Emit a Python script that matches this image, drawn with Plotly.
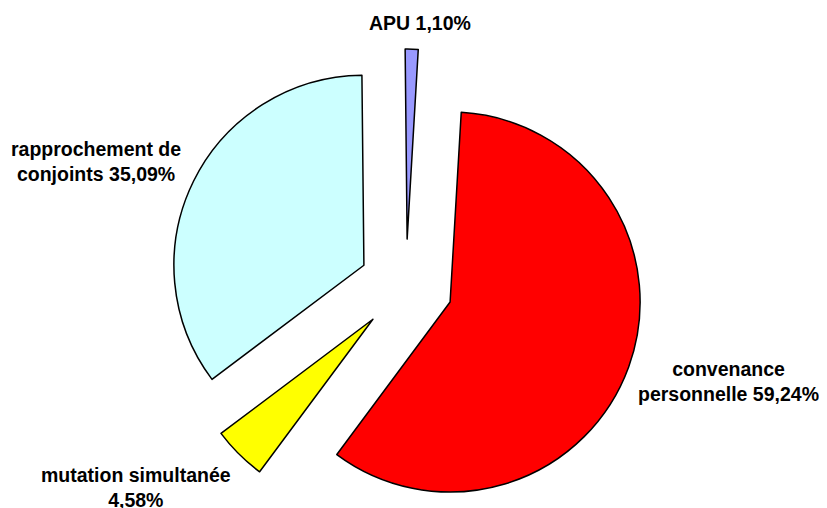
import math
import plotly.graph_objects as go

# ---- data ----
labels = ["APU", "convenance personnelle", "mutation simultanée", "rapprochement de conjoints"]
values = [1.10, 59.24, 4.58, 35.09]
label_texts = ["APU 1,10%", "convenance<br>personnelle 59,24%", "mutation simultanée<br>4,58%",
               "rapprochement de<br>conjoints 35,09%"]
colors = ["#9999FF", "#FF0000", "#FFFF00", "#CCFFFF"]

# ---- layout constants (pixels) ----
W, H = 827, 508
OFF = 8.0                 # page body margin offset compensation
CX, CY = 406.0 - OFF, 286.0 - OFF   # pie centre
R = 190.0                 # radius
PULL = 0.247              # explode fraction of radius
ROT = -0.6                # start angle (deg, clockwise from 12 o'clock)

label_pos = [(419.5, 23.5), (728.5, 381.5), (136.0, 487.5), (96.0, 161.0)]

fig = go.Figure()
total = sum(values)
start = ROT
for k, v in enumerate(values):
    span = 360.0 * v / total
    mid = math.radians(start + span / 2)
    start += span
    cx = CX + PULL * R * math.sin(mid)
    cy = CY - PULL * R * math.cos(mid)
    dx = [max(0.0, (cx - R) / W), min(1.0, (cx + R) / W)]
    dy = [max(0.0, 1 - (cy + R) / H), min(1.0, 1 - (cy - R) / H)]
    cols = ["rgba(0,0,0,0)"] * len(values)
    cols[k] = colors[k]
    widths = [0] * len(values)
    widths[k] = 1.5
    fig.add_trace(go.Pie(
        labels=labels, values=values, sort=False, direction="clockwise",
        rotation=ROT, textinfo="none", showlegend=False,
        marker=dict(colors=cols, line=dict(color="black", width=widths)),
        domain=dict(x=dx, y=dy),
    ))

for txt, (px, py) in zip(label_texts, label_pos):
    fig.add_annotation(
        x=(px - OFF) / W, y=1 - (py - OFF) / H, xref="paper", yref="paper",
        text=f"<b>{txt}</b>", showarrow=False, xanchor="center", yanchor="middle",
        align="center", font=dict(family="Liberation Sans, Arial", size=19.5, color="black"),
    )

fig.update_layout(
    width=W, height=H, margin=dict(l=0, r=0, t=0, b=0),
    paper_bgcolor="white", plot_bgcolor="white",
)
fig.write_html("out.html")
